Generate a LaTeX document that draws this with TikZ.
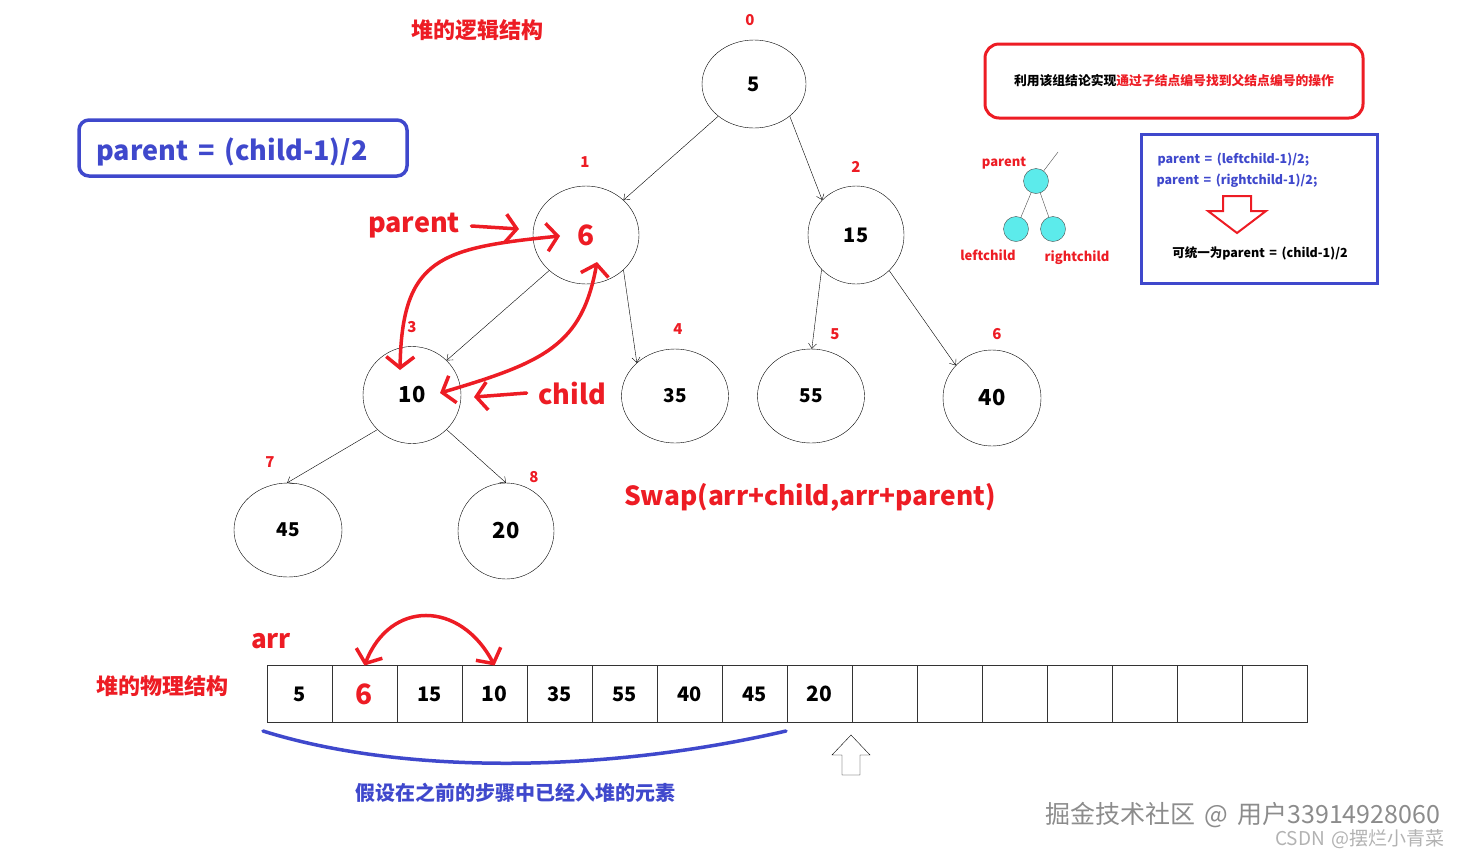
\documentclass[tikz,border=0pt]{standalone}
\usepackage{fontspec}
\setmainfont{Noto Sans CJK SC}[WordSpace=1.6]
\usepackage{tikz}
\usetikzlibrary{shapes.geometric,arrows.meta,positioning,calc}
\definecolor{hred}{RGB}{237,28,36}
\definecolor{hblue}{RGB}{63,72,204}
\definecolor{hcyan}{RGB}{92,235,235}
\newcommand{\fsz}[1]{\fontsize{#1}{#1}\selectfont\bfseries}

\begin{document}
\begin{tikzpicture}[x=1pt,y=-1pt,
    tnode/.style={ellipse,draw,thin,inner sep=0pt},
    idx/.style={text=hred,font=\fsz{15}},
    cell/.style={draw=black!80,minimum width=65,minimum height=57,inner sep=0pt,outer sep=0pt},
    redarr/.style={hred,line width=3.5pt,line cap=round,>={Straight Barb[length=11pt,width=28pt]}},
    >={Straight Barb[length=5pt,width=8pt]}]
\useasboundingbox (0,0) rectangle (1461,855);

% logical structure
\node[text=hred,font=\fsz{22}] (tlogic) at (477,30) {堆的逻辑结构};
\node[tnode,minimum width=104,minimum height=88,font=\fsz{20}] (n0) at (754,84) {5};
\node[tnode,minimum width=106,minimum height=98,font=\fsz{28},text=hred] (n1) at (586,235) {6};
\node[tnode,minimum width=96,minimum height=98,font=\fsz{20}] (n2) at (856,235) {15};
\node[tnode,minimum width=98,minimum height=97,font=\fsz{22}] (n3) at (412,395) {10};
\node[tnode,minimum width=107,minimum height=94,font=\fsz{19}] (n4) at (675,396) {35};
\node[tnode,minimum width=107,minimum height=94,font=\fsz{19}] (n5) at (811,396) {55};
\node[tnode,minimum width=98,minimum height=96,font=\fsz{22}] (n6) at (992,398) {40};
\node[tnode,minimum width=108,minimum height=94,font=\fsz{19}] (n7) at (288,530) {45};
\node[tnode,minimum width=96,minimum height=96,font=\fsz{22}] (n8) at (506,531) {20};

\node[idx] (i0) at (750,20) {0};
\node[idx] (i1) at (585,162) {1};
\node[idx] (i2) at (856,167) {2};
\node[idx] (i3) at (412,327) {3};
\node[idx] (i4) at (678,329) {4};
\node[idx] (i5) at (835,334) {5};
\node[idx] (i6) at (997,334) {6};
\node[idx] (i7) at (270,462) {7};
\node[idx] (i8) at (534,477) {8};

\draw[->] (n0.222) -- (n1.43);
\draw[->] (n0.-42) -- (n2.134);
\draw[->] (n1.224) -- (n3.45);
\draw[->] (n1.-43) -- (n4.139);
\draw[->] (n2.225) -- (n5.89);
\draw[->] (n2.-47) -- (n6.138);
\draw[->] (n3.225) -- (n7.91);
\draw[->] (n3.-45) -- (n8.90);

% parent / child marks
\node[text=hred,font=\fsz{27}] (lpar) at (414,226) {parent};
\coordinate (parend) at (519,229);
\draw[redarr,->] ([xshift=8pt]lpar.east) -- (parend);
\node[text=hred,font=\fsz{27}] (lchild) at (572,393) {child};
\coordinate (childend) at (474,397);
\draw[redarr,->] ([xshift=-8pt]lchild.west) -- (childend);

\coordinate (a1) at (400,370);
\coordinate (a2) at (560,236);
\draw[redarr,<->] (a1) .. controls (402,258) and (440,248) .. (a2);
\coordinate (b1) at (440,393);
\coordinate (b2) at (597,262);
\draw[redarr,<->] (b1) .. controls (545,362) and (582,345) .. (b2);

\node[text=hred,font=\fsz{26.3}] (swap) at (810,497) {Swap(arr+child,arr+parent)};

% formula
\node[draw=hblue,line width=3.5pt,rounded corners=10pt,minimum width=328,minimum height=56] (fbox) at (243,148) {};
\node[text=hblue,font=\fsz{27}] (formula) at (232,152) {parent = (child-1)/2};

% conclusion boxes
\node[draw=hred,line width=3pt,rounded corners=14pt,minimum width=378,minimum height=74,font=\fsz{12.8}] (concl) at (1174,81) {利用该组结论实现\textcolor{hred}{通过子结点编号找到父结点编号的操作}};
\node[draw=hblue,line width=3pt,minimum width=236,minimum height=149] (unify) at (1259,208.5) {};
\node[anchor=west,text=hblue,font=\fsz{12.5}] (fl) at (1154,160) {parent = (leftchild-1)/2;};
\node[anchor=west,text=hblue,font=\fsz{12.5}] (fr) at (1153,181) {parent = (rightchild-1)/2;};
\draw[hred,line width=2pt] (1223,196) -- (1251,196) -- (1251,211) -- (1266,211) -- (1237,233) -- (1208,211) -- (1223,211) -- cycle;
\node[font=\fsz{12.5}] (fu) at (1260,253) {可统一为parent = (child-1)/2};

% small tree
\node[circle,draw=black!70,fill=hcyan,minimum size=25,inner sep=0pt] (sp) at (1036,181) {};
\node[circle,draw=black!70,fill=hcyan,minimum size=25,inner sep=0pt] (sl) at (1016,229) {};
\node[circle,draw=black!70,fill=hcyan,minimum size=25,inner sep=0pt] (sr) at (1053,229) {};
\coordinate (stop) at (1058,152);
\draw[black!70] (sp) -- (stop);
\draw[black!70] (sp) -- (sl);
\draw[black!70] (sp) -- (sr);
\node[text=hred,font=\fsz{13}] (tp) at (1004,163) {parent};
\node[text=hred,font=\fsz{13}] (tl) at (988,255) {leftchild};
\node[text=hred,font=\fsz{13}] (tr) at (1077,258) {rightchild};

% physical structure
\node[text=hred,font=\fsz{26}] (larr) at (271,641) {arr};
\node[text=hred,font=\fsz{22}] (tphys) at (162,686) {堆的物理结构};
\foreach \v/\c/\f [count=\i] in {5/black/20,6/hred/28,15/black/20,10/black/21,35/black/20,55/black/20,40/black/20,45/black/20,20/black/21}
  \node[cell,text=\c,font=\fsz{\f}] (c\i) at ({299.5+65*(\i-1)},694) {\v};
\foreach \i in {10,...,16}
  \node[cell] (c\i) at ({299.5+65*(\i-1)},694) {};

\draw[redarr,<->] (c2.north) .. controls (390,600) and (460,600) .. (c4.north);

\coordinate (bl) at (263,731);
\coordinate (br) at (786,731);
\draw[hblue,line width=3.5pt,line cap=round] (bl) .. controls (400,774) and (600,774) .. (br);
\node[text=hblue,font=\fsz{20}] (prev) at (515,793) {假设在之前的步骤中已经入堆的元素};

\draw[black] (851,735) -- (870,755) -- (860,755) -- (860,775) -- (842,775) -- (842,755) -- (832,755) -- cycle;

% watermark
\node[text=black!45,font=\fontsize{25}{25}\selectfont] (wm1) at (1243,815) {掘金技术社区 @ 用户33914928060};
\node[text=black!30,font=\fontsize{19}{19}\selectfont] (wm2) at (1360,839) {CSDN @摆烂小青菜};
\end{tikzpicture}
\end{document}
